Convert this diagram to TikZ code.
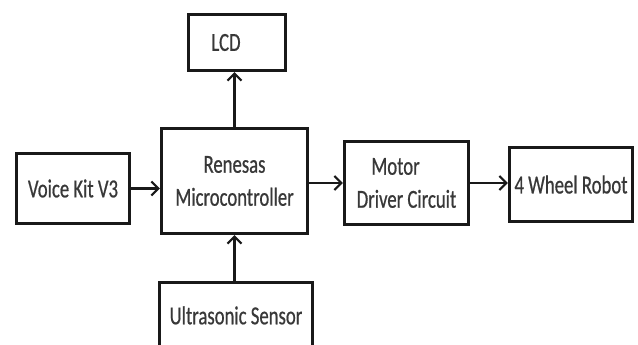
\documentclass[tikz,border=0pt]{standalone}
\usepackage{fontspec}
\newfontfamily\diagfont{Carlito}[FakeStretch=0.72,FakeBold=0.6]
\usetikzlibrary{arrows.meta}
\begin{document}
\begin{tikzpicture}[x=1pt,y=-1pt,
  blk/.style={draw=black!90, line width=2.6pt, inner sep=0pt, align=center,
    font=\diagfont\fontsize{26}{33}\selectfont, text=black!78},
  conn/.style={draw=black!90, line width=2.4pt,
    -{Straight Barb[length=7pt,width=14pt,line width=2.2pt]}}]
\useasboundingbox (0,0) rectangle (638,345);
\clip (0,0) rectangle (638,345);
\fill[white] (0,0) rectangle (638,345);
\node[blk, minimum width=97.5pt, minimum height=56.5pt] (lcd) at (237,42.5) {LCD\kern22pt};
\node[blk, minimum width=146.5pt, minimum height=105.5pt] (mcu) at (234.5,181) {Renesas\\Microcontroller};
\node[blk, minimum width=113.5pt, minimum height=70.5pt] (voice) at (73,188.5) {Voice Kit V3};
\node[blk, minimum width=153.5pt, anchor=north, inner ysep=24pt, text height=18pt, text depth=60pt] (ultra) at (236,281) {Ultrasonic Sensor};
\node[blk, minimum width=124.5pt, minimum height=83.5pt] (motor) at (406.5,183) {Motor\kern22pt\\Driver Circuit};
\node[blk, minimum width=123.5pt, minimum height=74.5pt] (robot) at (571,184.5) {4 Wheel Robot};
\draw[conn] (voice.east) -- (voice.east -| mcu.west);
\draw[conn] (motor.west -| mcu.east) -- (motor.west);
\draw[conn] (motor.east) -- (motor.east -| robot.west);
\draw[conn] (mcu.north) -- (mcu.north |- lcd.south);
\draw[conn] (ultra.north -| mcu.south) -- (mcu.south);
\end{tikzpicture}
\end{document}
